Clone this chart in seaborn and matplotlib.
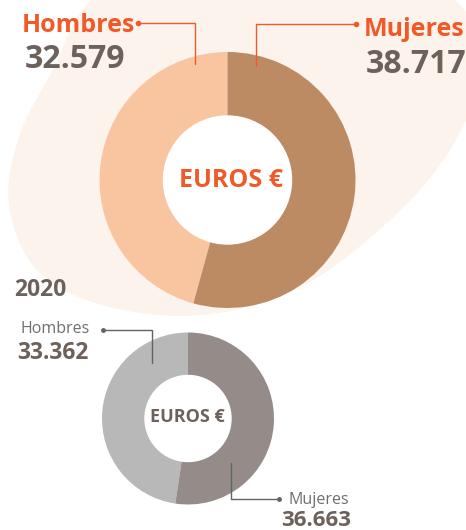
import numpy as np
import matplotlib
matplotlib.use("Agg")
import matplotlib.pyplot as plt
import seaborn as sns

# data
labels = ["Hombres", "Mujeres"]
values_main = [32579, 38717]
values_2020 = [33362, 36663]
value_text_main = ["32.579", "38.717"]
value_text_2020 = ["33.362", "36.663"]
year_label = "2020"
center_label = "EUROS €"

ORANGE = "#F05A28"
BROWN = "#6D625B"
GRAY_TXT = "#6E6E6E"
GRAY_LINE = "#5E665F"
BLOB = "#FCF4EC"
main_colors = ["#F9C4A0", "#BD8B63"]
old_colors = ["#B8B8B8", "#958C89"]

W, H = 466, 530

sns.set_theme(style="white")
plt.rcParams["font.family"] = ["Open Sans", "DejaVu Sans"]


def Y(y):
    # pixel row (top-down) to axis units (bottom-up)
    return H - y


def closed_spline(pts, n=40):
    # Catmull-Rom through the outline points, closed
    pts = np.asarray(pts, float)
    out = []
    k = len(pts)
    for i in range(k):
        p0, p1, p2, p3 = pts[i - 1], pts[i], pts[(i + 1) % k], pts[(i + 2) % k]
        t = np.linspace(0, 1, n, endpoint=False)[:, None]
        seg = 0.5 * ((2 * p1) + (-p0 + p2) * t + (2 * p0 - 5 * p1 + 4 * p2 - p3) * t ** 2
                     + (-p0 + 3 * p1 - 3 * p2 + p3) * t ** 3)
        out.append(seg)
    return np.vstack(out)


fig = plt.figure(figsize=(W / 100, H / 100), dpi=100)
ax = fig.add_axes([0, 0, 1, 1])

# soft background shape behind the current donut
blob_px = [(105, -10), (250, -30), (440, -8), (478, 60), (466, 120), (420, 190),
           (340, 262), (270, 300), (185, 316), (95, 303), (35, 268), (9, 205),
           (18, 140), (50, 75)]
blob = closed_spline([(x, Y(y)) for x, y in blob_px])
ax.fill(blob[:, 0], blob[:, 1], color=BLOB, lw=0, zorder=0)

# main donut
c1 = (227.5, Y(180))
ax.pie(values_main, colors=main_colors, startangle=90, counterclock=True,
       center=c1, radius=128, wedgeprops=dict(width=64, edgecolor="none"))
ax.add_patch(plt.Circle(c1, 64, color="white", zorder=3))
ax.text(231, Y(187), center_label, color=ORANGE, fontsize=18, fontweight="bold",
        ha="center", va="baseline", zorder=4)

# 2020 donut
c2 = (188, Y(418.5))
ax.pie(values_2020, colors=old_colors, startangle=90, counterclock=True,
       center=c2, radius=86, wedgeprops=dict(width=43, edgecolor="none"))
ax.add_patch(plt.Circle(c2, 43, color="white", zorder=3))
ax.text(187.5, Y(422), center_label, color=BROWN, fontsize=13, fontweight="bold",
        ha="center", va="baseline", zorder=4)

# labels, main
ax.text(22, Y(32), labels[0], color=ORANGE, fontsize=18, fontweight="bold", va="baseline")
ax.text(25, Y(68), value_text_main[0], color=BROWN, fontsize=23, fontweight="bold", va="baseline")
ax.text(464, Y(36), labels[1], color=ORANGE, fontsize=18, fontweight="bold",
        ha="right", va="baseline")
ax.text(466, Y(73), value_text_main[1], color=BROWN, fontsize=23, fontweight="bold",
        ha="right", va="baseline")

ax.plot([138, 195, 195], [Y(22.5), Y(22.5), Y(64)], color=ORANGE, lw=1, zorder=5)
ax.plot([138], [Y(22.5)], "o", color=ORANGE, ms=3, zorder=5)
ax.plot([356, 256, 256], [Y(24), Y(24), Y(66)], color=ORANGE, lw=1, zorder=5)
ax.plot([356], [Y(24)], "o", color=ORANGE, ms=3, zorder=5)

ax.text(14, Y(296), year_label, color=BROWN, fontsize=16.5, fontweight="bold", va="baseline")

# labels, 2020
ax.text(21, Y(333), labels[0], color=GRAY_TXT, fontsize=11.5, va="baseline")
ax.text(17, Y(359), value_text_2020[0], color=BROWN, fontsize=16.5, fontweight="bold",
        va="baseline")
ax.text(289, Y(504), labels[1], color=GRAY_TXT, fontsize=11.5, va="baseline")
ax.text(281, Y(525.5), value_text_2020[1], color=BROWN, fontsize=16, fontweight="bold",
        va="baseline")

ax.plot([103, 152, 152], [Y(330), Y(330), Y(363)], color=GRAY_LINE, lw=1, zorder=5)
ax.plot([103], [Y(330)], "o", color=GRAY_LINE, ms=2.5, zorder=5)
ax.plot([231, 231, 279], [Y(463), Y(499), Y(499)], color=GRAY_LINE, lw=1, zorder=5)
ax.plot([279], [Y(499)], "o", color=GRAY_LINE, ms=2.5, zorder=5)

ax.set_xlim(0, W)
ax.set_ylim(0, H)
ax.set_aspect("equal")
ax.axis("off")

fig.savefig("out.png", dpi=100, facecolor="white")
